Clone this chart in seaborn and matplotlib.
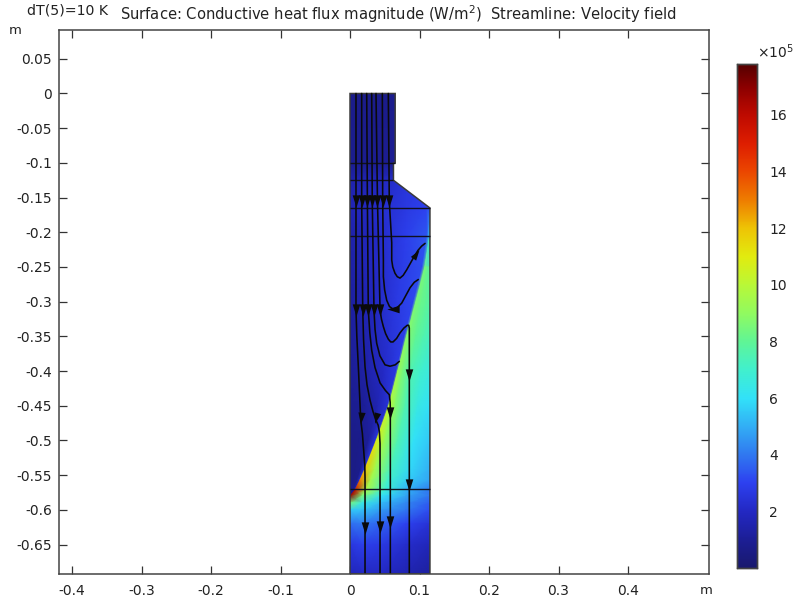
import numpy as np
import matplotlib
matplotlib.use("Agg")
import matplotlib.pyplot as plt
import seaborn as sns
from matplotlib.colors import LinearSegmentedColormap, Normalize
from matplotlib.cm import ScalarMappable
from matplotlib.path import Path
from matplotlib.patches import Polygon
from matplotlib.transforms import Affine2D

# ---- text
title_left = "dT(5)=10 K"
title_main = "Surface: Conductive heat flux magnitude (W/m$^2$)  Streamline: Velocity field"
x_tick_values = [-0.4, -0.3, -0.2, -0.1, 0, 0.1, 0.2, 0.3, 0.4]
x_tick_labels = ["-0.4", "-0.3", "-0.2", "-0.1", "0", "0.1", "0.2", "0.3", "0.4"]
y_tick_values = [0.05, 0, -0.05, -0.1, -0.15, -0.2, -0.25, -0.3, -0.35, -0.4, -0.45, -0.5, -0.55, -0.6, -0.65]
y_tick_labels = ["0.05", "0", "-0.05", "-0.1", "-0.15", "-0.2", "-0.25", "-0.3", "-0.35", "-0.4", "-0.45",
                 "-0.5", "-0.55", "-0.6", "-0.65"]
cbar_ticks = [2, 4, 6, 8, 10, 12, 14, 16]
cbar_max = 17.8

# ---- colour scale (value in 1e5 W/m2, RGB)
cmap_values = [0, 1, 2, 3, 4, 5, 6, 7, 8, 9, 10, 11, 12, 13, 14, 15, 16, 17, 17.8]
cmap_rgb = [(25, 25, 110), (28, 30, 150), (35, 40, 195), (45, 65, 240), (48, 120, 240), (50, 175, 245),
            (50, 225, 248), (65, 240, 205), (95, 245, 150), (145, 250, 95), (185, 248, 55), (225, 235, 15),
            (238, 195, 5), (238, 125, 0), (235, 70, 0), (222, 30, 0), (190, 10, 0), (140, 0, 0), (85, 0, 0)]

# ---- geometry
domain_x = [0, 0.065, 0.065, 0.0625, 0.0625, 0.115, 0.115, 0]
domain_y = [0, 0, -0.1, -0.1, -0.125, -0.165, -0.692, -0.692]
line_y = [-0.1, -0.125, -0.165, -0.205, -0.57]
line_x_end = [0.065, 0.0625, 0.115, 0.115, 0.115]

# ---- heat-flux field (1e5 W/m2) read at nodes, on rows y_levels
y_levels = [0, -0.1, -0.125, -0.165, -0.205, -0.25, -0.3, -0.35, -0.4, -0.45, -0.5, -0.5425, -0.557, -0.572,
            -0.58, -0.59, -0.6, -0.62, -0.65, -0.692]
interface_x = [0.115, 0.115, 0.115, 0.115, 0.115, 0.108, 0.095, 0.0815, 0.069, 0.056, 0.038, 0.021, 0.0145, 0.007,
               0, 0, 0, 0, 0, 0]
liquid_frac = [0, 0.35, 0.7, 0.96, 1.0]
solid_frac = [0, 0.15, 0.4, 0.7, 1.0]
liquid_values = [
    [0.7, 0.7, 0.8, 0.8, 0.8],
    [0.8, 0.9, 1.0, 1.2, 1.2],
    [1.5, 1.8, 2.5, 2.6, 2.6],
    [1.7, 2.2, 2.7, 3.0, 3.5],
    [1.4, 2.1, 2.9, 3.4, 6.0],
    [1.3, 2.1, 2.8, 3.2, 8.5],
    [1.2, 1.9, 2.7, 3.1, 8.5],
    [1.1, 1.7, 2.4, 2.9, 8.8],
    [1.0, 1.4, 2.1, 2.7, 9.2],
    [0.8, 1.0, 1.6, 2.4, 10.0],
    [0.6, 0.7, 1.1, 2.5, 10.8],
    [0.6, 0.6, 0.8, 2.5, 12.0],
    [0.6, 0.6, 0.8, 2.5, 13.0],
    [0.8, 0.8, 0.8, 1.5, 16.0],
    [1.0, 1.0, 1.0, 1.0, 17.0],
    [1.0, 1.0, 1.0, 1.0, 8.5],
    [1.0, 1.0, 1.0, 1.0, 5.5],
    [1.0, 1.0, 1.0, 1.0, 3.8],
    [1.0, 1.0, 1.0, 1.0, 2.6],
    [1.0, 1.0, 1.0, 1.0, 1.8],
]
solid_values = [
    [1.0, 1.0, 1.0, 1.0, 1.0],
    [1.2, 1.2, 1.2, 1.2, 1.2],
    [2.6, 2.6, 2.6, 2.6, 2.6],
    [3.5, 3.5, 3.5, 3.5, 3.5],
    [6.0, 6.0, 5.5, 5.5, 5.0],
    [8.5, 8.4, 8.2, 8.0, 7.8],
    [8.5, 8.4, 8.2, 8.0, 7.7],
    [8.8, 8.5, 8.0, 7.6, 7.2],
    [9.2, 8.5, 7.5, 7.0, 6.6],
    [10.0, 8.8, 7.5, 6.5, 6.0],
    [10.8, 9.2, 7.5, 6.0, 5.5],
    [12.0, 9.5, 7.2, 5.8, 5.0],
    [13.0, 9.5, 7.0, 5.5, 4.8],
    [16.0, 9.5, 6.8, 5.0, 4.0],
    [17.0, 8.5, 6.0, 4.8, 3.9],
    [8.5, 6.5, 5.2, 4.3, 3.5],
    [5.5, 5.4, 4.6, 4.0, 3.2],
    [3.8, 4.0, 3.6, 3.0, 2.4],
    [2.6, 2.9, 2.7, 2.2, 1.8],
    [1.8, 2.0, 2.0, 1.6, 1.2],
]

# ---- streamlines
stream_1_x = [0.0086, 0.0086, 0.0098, 0.012, 0.0154, 0.0178, 0.0197, 0.0212, 0.0216, 0.0216]
stream_1_y = [0, -0.312, -0.35, -0.394, -0.47, -0.49, -0.515, -0.535, -0.553, -0.692]
stream_2_x = [0.0168, 0.0168, 0.0183, 0.0195, 0.0216, 0.0245, 0.0288, 0.033, 0.037, 0.0405, 0.0422, 0.0432, 0.0432]
stream_2_y = [0, -0.155, -0.312, -0.355, -0.394, -0.42, -0.442, -0.458, -0.47, -0.478, -0.487, -0.504, -0.692]
stream_3_x = [0.024, 0.025, 0.0263, 0.0285, 0.0312, 0.036, 0.0432, 0.051, 0.0565, 0.0578, 0.058, 0.058]
stream_3_y = [0, -0.155, -0.312, -0.345, -0.37, -0.395, -0.417, -0.428, -0.434, -0.445, -0.46, -0.692]
stream_4_x = [0.0312, 0.032, 0.0345, 0.036, 0.0384, 0.043, 0.0504, 0.0576, 0.065, 0.071]
stream_4_y = [0, -0.155, -0.312, -0.34, -0.36, -0.378, -0.391, -0.393, -0.391, -0.386]
stream_5_x = [0.0374, 0.0395, 0.0432, 0.0452, 0.048, 0.0512, 0.0551, 0.0585, 0.0619, 0.067, 0.0719, 0.0775, 0.0824,
              0.0845, 0.0853, 0.0853]
stream_5_y = [0, -0.155, -0.312, -0.325, -0.336, -0.346, -0.354, -0.358, -0.358, -0.353, -0.345, -0.338, -0.334,
              -0.334, -0.338, -0.692]
stream_6_x = [0.0465, 0.047, 0.048, 0.048, 0.0498, 0.0528, 0.0568, 0.0623, 0.0685, 0.0744, 0.0863, 0.0925, 0.0983]
stream_6_y = [0, -0.155, -0.24, -0.264, -0.283, -0.298, -0.307, -0.311, -0.308, -0.302, -0.28, -0.272, -0.268]
stream_7_x = [0.0551, 0.0565, 0.06, 0.06, 0.0615, 0.0647, 0.068, 0.0719, 0.0765, 0.0816, 0.0911, 0.0978, 0.103, 0.108]
stream_7_y = [0, -0.155, -0.215, -0.24, -0.25, -0.259, -0.264, -0.266, -0.262, -0.254, -0.237, -0.226, -0.22, -0.216]
streams = [(stream_1_x, stream_1_y), (stream_2_x, stream_2_y), (stream_3_x, stream_3_y), (stream_4_x, stream_4_y),
           (stream_5_x, stream_5_y), (stream_6_x, stream_6_y), (stream_7_x, stream_7_y)]

# arrowheads: position and heading (degrees, 0 = downward, positive = anticlockwise)
arrow_x = [0.0086, 0.0168, 0.025, 0.032, 0.0395, 0.047, 0.0565,
           0.0086, 0.0183, 0.0263, 0.0345, 0.0432,
           0.0154, 0.037, 0.058, 0.0853,
           0.0216, 0.0432, 0.058, 0.0853,
           0.0623, 0.0945]
arrow_y = [-0.155, -0.155, -0.155, -0.155, -0.155, -0.155, -0.155,
           -0.312, -0.312, -0.312, -0.312, -0.312,
           -0.468, -0.468, -0.46, -0.406,
           -0.626, -0.624, -0.618, -0.564,
           -0.311, -0.231]
arrow_heading = [0, 0, 0, 0, 0, 0, 0,
                 0, 0, 0, 0, 0,
                 -5, -15, 0, 0,
                 0, 0, 0, 0,
                 -90, 145]

# ---- figure
sns.set_theme(style="ticks", rc={"font.family": ["DejaVu Sans"], "text.color": "#222222",
                                 "axes.edgecolor": "#444444", "xtick.color": "#333333",
                                 "ytick.color": "#333333", "xtick.labelcolor": "#222222",
                                 "ytick.labelcolor": "#222222", "path.simplify": False})
W, H = 797, 600
fig = plt.figure(figsize=(W / 100, H / 100), dpi=100)
ax = fig.add_axes([59 / W, 1 - 574 / H, 650 / W, 544 / H])
ax.set_xlim(-0.4187, 0.5165)
ax.set_ylim(-0.6924, 0.0915)

cmap = LinearSegmentedColormap.from_list(
    "heat", [(v / cbar_max, tuple(c / 255 for c in rgb)) for v, rgb in zip(cmap_values, cmap_rgb)], N=512)
norm = Normalize(0, cbar_max)

ys = np.array(y_levels)
iface = np.array(interface_x)
YL = np.repeat(ys[:, None], len(liquid_frac), axis=1)
XL = iface[:, None] * np.array(liquid_frac)[None, :]
YS = np.repeat(ys[:, None], len(solid_frac), axis=1)
XS = iface[:, None] + (0.115 - iface[:, None]) * np.array(solid_frac)[None, :]

clip = Polygon(np.column_stack([domain_x, domain_y]), closed=True, transform=ax.transData)
for X, Y, C in [(XL, YL, liquid_values), (XS, YS, solid_values)]:
    mesh = ax.pcolormesh(X, Y, np.array(C), shading="gouraud", cmap=cmap, norm=norm, zorder=1)
    mesh.set_clip_path(clip)

ax.add_patch(Polygon(np.column_stack([domain_x, domain_y]), closed=True, fill=False,
                     edgecolor="#3a3a3a", linewidth=1.1, zorder=3))
ax.hlines(line_y, 0, line_x_end, color="#101020", linewidth=1.0, zorder=3)

for sx, sy in streams:
    sns.lineplot(x=sx, y=sy, sort=False, estimator=None, color="#0a0a0a", linewidth=1.15, ax=ax, zorder=4,
                 legend=False)

head = Path([(-0.62, 1.0), (0.62, 1.0), (0, -1.0), (-0.62, 1.0)], closed=True)
for ax_x, ax_y, ang in zip(arrow_x, arrow_y, arrow_heading):
    marker = head.transformed(Affine2D().rotate_deg(ang))
    sns.scatterplot(x=[ax_x], y=[ax_y], marker=marker, s=78, color="#0a0a0a", linewidth=0, ax=ax, zorder=5,
                    legend=False)

ax.set_xticks(x_tick_values, x_tick_labels)
ax.set_yticks(y_tick_values, y_tick_labels)
ax.tick_params(axis="both", which="major", direction="in", length=5.5, width=0.9, top=True, right=True,
               labelsize=10, pad=5)
ax.tick_params(axis="x", pad=7)
for s in ax.spines.values():
    s.set_visible(True)
    s.set_linewidth(1.1)
    s.set_zorder(6)

# colour bar
cax = fig.add_axes([737 / W, 1 - 568 / H, 20 / W, 504 / H])
fig.colorbar(ScalarMappable(norm=norm, cmap=cmap), cax=cax, ticks=cbar_ticks)
cax.set_yticks(cbar_ticks, [str(t) for t in cbar_ticks])
cax.tick_params(direction="in", length=3, width=0.9, left=True, right=True, labelsize=10, pad=9)
for s in cax.spines.values():
    s.set_visible(True)
    s.set_linewidth(1.0)

def px(x, y):
    return x / W, 1 - y / H

fig.text(*px(27, 11), title_left, fontsize=10.2, va="center", ha="left")
fig.text(*px(120, 14), title_main, fontsize=10.65, va="center", ha="left")
fig.text(*px(9, 31), "m", fontsize=9.5, va="center", ha="left")
fig.text(*px(700, 590), "m", fontsize=9.5, va="center", ha="left")
fig.text(*px(757, 52), r"$\times$10$^5$", fontsize=10, va="center", ha="left")

fig.savefig("out.png", dpi=100)
